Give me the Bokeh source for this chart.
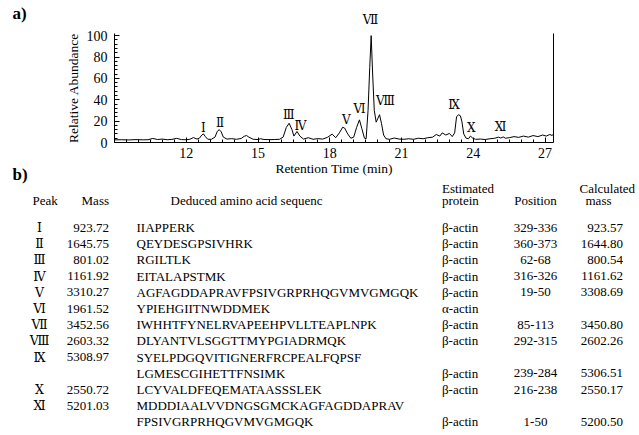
from bokeh.plotting import figure
from bokeh.models import Range1d, LinearAxis, FixedTicker
from bokeh.embed import file_html
from bokeh.resources import INLINE
from bokeh.core.properties import value

# ---------------- chromatogram data ----------------
rt = [9.0, 9.3, 9.6, 9.9, 10.2, 10.4, 10.6, 10.8, 11.0, 11.2, 11.4, 11.6, 11.8,
      12.0, 12.15, 12.3, 12.45, 12.55, 12.65, 12.72, 12.8, 12.9, 13.05, 13.2,
      13.3, 13.38, 13.46, 13.55, 13.7, 13.9, 14.1, 14.3, 14.42, 14.52, 14.62,
      14.8, 15.0, 15.1, 15.25, 15.5, 15.7, 15.9, 16.05, 16.18, 16.3, 16.42,
      16.5, 16.63, 16.75, 16.9, 17.1, 17.3, 17.5, 17.7, 17.9, 18.1, 18.25,
      18.4, 18.54, 18.62, 18.75, 18.88, 19.0, 19.12, 19.24, 19.34, 19.45,
      19.52, 19.6, 19.67, 19.73, 19.79, 19.86, 19.94, 20.0, 20.08, 20.16,
      20.25, 20.35, 20.5, 20.7, 20.9, 21.1, 21.3, 21.5, 21.7, 21.9, 22.1,
      22.3, 22.45, 22.6, 22.7, 22.85, 23.0, 23.12, 23.22, 23.3, 23.38, 23.46,
      23.52, 23.6, 23.7, 23.8, 23.88, 23.98, 24.1, 24.3, 24.5, 24.7, 24.9,
      25.05, 25.15, 25.25, 25.35, 25.5, 25.7, 25.9, 26.1, 26.3, 26.5, 26.7,
      26.9, 27.05, 27.2, 27.3, 27.35]
abundance = [2.5, 2.6, 2.4, 2.7, 2.5, 2.6, 3.8, 2.8, 3.2, 2.6, 2.9, 3.9, 2.7,
             2.6, 3.0, 4.6, 3.2, 4.0, 7.0, 8.0, 5.5, 3.0, 3.0, 5.0,
             10.5, 12.0, 10.0, 5.0, 3.2, 3.6, 3.0, 3.8, 5.8, 6.5, 5.0,
             3.0, 2.8, 3.5, 2.8, 2.7, 2.8, 3.0, 5.0, 14.0, 18.0, 12.0,
             6.0, 10.3, 6.0, 3.2, 4.5, 3.0, 3.6, 3.2, 4.8, 7.8, 4.5,
             9.0, 14.3, 13.5, 8.0, 4.0, 5.0, 14.0, 21.2, 13.0, 4.0,
             3.5, 30.0, 70.0, 100.0, 65.0, 30.0, 19.0, 22.0, 26.0, 18.0,
             7.0, 3.5, 3.0, 4.2, 3.2, 3.0, 3.5, 3.0, 4.0, 3.5, 4.5,
             5.0, 7.5, 6.0, 9.0, 7.0, 8.5, 5.5, 9.0, 24.0, 26.0, 25.0,
             20.0, 8.0, 4.0, 3.5, 6.0, 4.0, 3.0, 3.2, 2.8, 3.5, 4.0,
             5.0, 4.2, 5.2, 4.0, 4.5, 5.5, 4.8, 6.0, 5.0, 6.5, 5.5,
             7.0, 6.0, 7.5, 6.5, 8.0]

x_ticks = [12, 15, 18, 21, 24, 27]
y_ticks = [0, 20, 40, 60, 80, 100]

peak_names = ["Ⅰ", "Ⅱ", "Ⅲ", "Ⅳ", "Ⅴ", "Ⅵ", "Ⅶ", "Ⅷ", "Ⅸ", "Ⅹ", "Ⅺ"]
peak_label_rt = [12.72, 13.41, 16.29, 16.78, 18.69, 19.24, 19.70, 20.33, 23.19, 23.92, 25.14]
peak_label_y = [14.0, 18.7, 25.3, 15.9, 20.6, 31.5, 114.2, 39.3, 35.0, 13.8, 14.3]

# ---------------- table data ----------------
tbl_peak = ["Ⅰ", "Ⅱ", "Ⅲ", "Ⅳ", "Ⅴ", "Ⅵ", "Ⅶ", "Ⅷ", "Ⅸ", "", "Ⅹ", "Ⅺ", ""]
tbl_mass = ["923.72", "1645.75", "801.02", "1161.92", "3310.27", "1961.52",
            "3452.56", "2603.32", "5308.97", "", "2550.72", "5201.03", ""]
tbl_seq = ["IIAPPERK", "QEYDESGPSIVHRK", "RGILTLK", "EITALAPSTMK",
           "AGFAGDDAPRAVFPSIVGRPRHQGVMVGMGQK", "YPIEHGIITNWDDMEK",
           "IWHHTFYNELRVAPEEHPVLLTEAPLNPK", "DLYANTVLSGGTTMYPGIADRMQK",
           "SYELPDGQVITIGNERFRCPEALFQPSF", "LGMESCGIHETTFNSIMK",
           "LCYVALDFEQEMATAASSSLEK", "MDDDIAALVVDNGSGMCKAGFAGDDAPRAV",
           "FPSIVGRPRHQGVMVGMGQK"]
tbl_protein = ["β-actin", "β-actin", "β-actin", "β-actin", "β-actin", "α-actin",
               "β-actin", "β-actin", "", "β-actin", "β-actin", "", "β-actin"]
tbl_position = ["329-336", "360-373", "62-68", "316-326", "19-50", "",
                "85-113", "292-315", "", "239-284", "216-238", "", "1-50"]
tbl_calc = ["923.57", "1644.80", "800.54", "1161.62", "3308.69", "",
            "3450.80", "2602.26", "", "5306.51", "2550.17", "", "5200.50"]

SERIF = "Liberation Serif"
NUMF = "DejaVu Serif"

# ---------------- layout geometry (pixels on the 639x435 canvas) ----------------
W, H = 639, 435
AX_LEFT_PX, AX_BOTTOM_PX = 114, 142     # where rt=9.0 and abundance=0 sit
PX_PER_MIN, PX_PER_UNIT = 23.92, 1.0686
RT0, RT1, AB1 = 9.0, 27.35, 102.0


def PX(x):
    return RT0 + (x - AX_LEFT_PX) / PX_PER_MIN


def PY(y):
    return (AX_BOTTOM_PX - y) / PX_PER_UNIT


p = figure(width=W, height=H, x_range=Range1d(PX(0), PX(W)), y_range=Range1d(PY(H), PY(0)),
           x_axis_type=None, y_axis_type=None, output_backend="svg", toolbar_location=None,
           min_border=0)
p.grid.visible = False
p.outline_line_color = None
p.background_fill_color = "white"
p.border_fill_color = "white"

# trace
p.line(rt, abundance, line_color="black", line_width=1)

# axes
xminor = [RT0 + 0.5 * i for i in range(37)]
yminor = [4 * i for i in range(26)]
xax = LinearAxis(fixed_location=0, bounds=(RT0, RT1),
                 ticker=FixedTicker(ticks=x_ticks, minor_ticks=xminor),
                 axis_label="Retention Time (min)")
yax = LinearAxis(fixed_location=RT0, bounds=(0, AB1),
                 ticker=FixedTicker(ticks=y_ticks, minor_ticks=yminor),
                 axis_label="Relative Abundance")
for ax in (xax, yax):
    ax.axis_line_color = "black"
    ax.major_tick_in = 5
    ax.major_tick_out = 0
    ax.minor_tick_in = 3
    ax.minor_tick_out = 0
    ax.major_label_text_font = SERIF
    ax.major_label_text_font_size = "14px"
    ax.major_label_text_color = "black"
    ax.axis_label_text_font = SERIF
    ax.axis_label_text_font_size = "13.5px"
    ax.axis_label_text_font_style = "normal"
    ax.axis_label_text_color = "black"
xax.major_label_standoff = 5
xax.axis_label_standoff = 0
yax.major_label_standoff = 7
yax.axis_label_standoff = 3
p.add_layout(xax, "below")
p.add_layout(yax, "left")

rax = LinearAxis(fixed_location=RT1, bounds=(0, AB1), ticker=FixedTicker(ticks=[]),
                 major_tick_in=0, major_tick_out=0, minor_tick_in=0, minor_tick_out=0,
                 axis_line_color="black")
p.add_layout(rax, "right")

# peak labels
p.text(x=peak_label_rt, y=peak_label_y, text=peak_names, text_font=value(NUMF),
       text_font_size="12px", text_align="center", text_baseline="middle", text_color="black")

# panel letters
p.text(x=[PX(12), PX(12)], y=[PY(12.5), PY(173.5)], text=["a)", "b)"], text_font=value(SERIF),
       text_font_size="17px", text_font_style="bold", text_align="left",
       text_baseline="middle", text_color="black")

# ---------------- table ----------------
fs = "13px"
row_py = [227 + 16.2 * i for i in range(len(tbl_seq))]


def col(xpx, ypxs, texts, align, font=SERIF, size=fs):
    p.text(x=[PX(xpx)] * len(texts), y=[PY(v) for v in ypxs], text=texts,
           text_font=value(font), text_font_size=size, text_align=align,
           text_baseline="middle", text_color="black")


col(32, [200], ["Peak"], "left")
col(108.5, [200], ["Mass"], "right")
col(170, [200], ["Deduced amino acid sequenc"], "left")
col(441.5, [188, 200], ["Estimated", "protein"], "left")
col(535, [200], ["Position"], "center")
col(579, [188], ["Calculated"], "left")
col(585, [200], ["mass"], "left")

col(39, row_py, tbl_peak, "center", NUMF, "12.5px")
col(108.5, row_py, tbl_mass, "right")
col(136, row_py, tbl_seq, "left")
col(441.5, row_py, tbl_protein, "left")
col(535, row_py, tbl_position, "center")
col(622.5, row_py, tbl_calc, "right")

open("out.html", "w").write(file_html(p, INLINE))
